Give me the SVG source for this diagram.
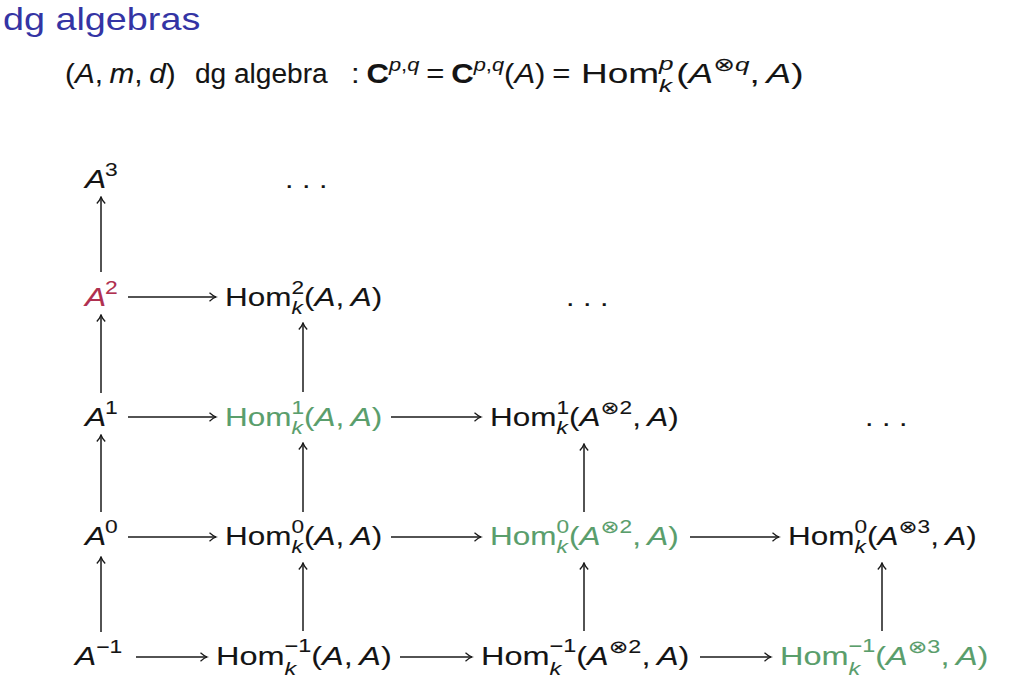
<svg xmlns="http://www.w3.org/2000/svg" width="1023" height="689" viewBox="0 0 1023 689">
<defs>
<style>
.t{font-family:"Liberation Sans","DejaVu Sans",sans-serif;font-size:25px;fill:#141414;stroke:#141414;stroke-width:0.08}
.h{font-size:27px}
.i{font-style:italic}
.s{font-size:18px}
.hs{font-size:19px}
.b{font-weight:bold}
.g{fill:#5a9e6c;stroke:#5a9e6c}
.r{fill:#b03050;stroke:#b03050}
.ttl{font-family:"Liberation Sans","DejaVu Sans",sans-serif;font-size:32px;fill:#3434a4}
.ar{stroke:#1a1a1a;stroke-width:1.5;fill:none}
</style>
<marker id="ah" viewBox="0 0 12 12" markerWidth="12" markerHeight="12" refX="10.5" refY="6" orient="auto" markerUnits="userSpaceOnUse">
<path d="M4,1.8 Q7.5,5 10.5,6 Q7.5,7 4,10.2" fill="none" stroke="#1a1a1a" stroke-width="1.3"/>
</marker>
</defs>
<rect width="1023" height="689" fill="#ffffff"/>

<g id="title"><text class="ttl" transform="translate(3,30) scale(1.18,1)">dg algebras</text></g>

<g id="header">
<text class="t h" transform="translate(65,83) scale(1.1,1)">(<tspan class="i">A</tspan>,<tspan class="i" dx="6">m</tspan>,<tspan class="i" dx="6">d</tspan>)</text>
<text class="t h" transform="translate(195,83) scale(1.04,1)">dg algebra</text>
<text class="t h" transform="translate(351,83) scale(1.15,1)">:<tspan class="b" dx="6">C</tspan><tspan class="hs i" dy="-12">p</tspan><tspan class="hs">,</tspan><tspan class="hs i">q</tspan><tspan dx="6" dy="12">=</tspan><tspan class="b" dx="6">C</tspan><tspan class="hs i" dy="-12">p</tspan><tspan class="hs">,</tspan><tspan class="hs i">q</tspan><tspan dy="12">(</tspan><tspan class="i">A</tspan>)<tspan dx="6">=</tspan></text>
<text class="t h" transform="translate(581,83) scale(1.37,1)">Hom<tspan class="hs i" dy="-13">p</tspan><tspan class="hs i" dx="-10.6" dy="22">k</tspan><tspan dx="3" dy="-9">(</tspan><tspan class="i">A</tspan><tspan class="hs" dy="-12">⊗</tspan><tspan class="hs i">q</tspan><tspan dy="12">,</tspan><tspan class="i" dx="5">A</tspan>)</text>
</g>

<g id="connectors">
<line class="ar" x1="128" y1="297" x2="216" y2="297" marker-end="url(#ah)"/>
<line class="ar" x1="128" y1="417" x2="216" y2="417" marker-end="url(#ah)"/>
<line class="ar" x1="391" y1="417" x2="481" y2="417" marker-end="url(#ah)"/>
<line class="ar" x1="128" y1="537" x2="216" y2="537" marker-end="url(#ah)"/>
<line class="ar" x1="391" y1="537" x2="481" y2="537" marker-end="url(#ah)"/>
<line class="ar" x1="690" y1="537" x2="779" y2="537" marker-end="url(#ah)"/>
<line class="ar" x1="136" y1="657" x2="207" y2="657" marker-end="url(#ah)"/>
<line class="ar" x1="400" y1="657" x2="472" y2="657" marker-end="url(#ah)"/>
<line class="ar" x1="700" y1="657" x2="771" y2="657" marker-end="url(#ah)"/>
<line class="ar" x1="101" y1="272" x2="101" y2="197" marker-end="url(#ah)"/>
<line class="ar" x1="101" y1="393" x2="101" y2="315" marker-end="url(#ah)"/>
<line class="ar" x1="101" y1="512" x2="101" y2="435" marker-end="url(#ah)"/>
<line class="ar" x1="101" y1="632" x2="101" y2="557" marker-end="url(#ah)"/>
<line class="ar" x1="303" y1="392" x2="303" y2="323" marker-end="url(#ah)"/>
<line class="ar" x1="303" y1="512" x2="303" y2="443" marker-end="url(#ah)"/>
<line class="ar" x1="303" y1="631" x2="303" y2="563" marker-end="url(#ah)"/>
<line class="ar" x1="584" y1="512" x2="584" y2="444" marker-end="url(#ah)"/>
<line class="ar" x1="584" y1="631" x2="584" y2="563" marker-end="url(#ah)"/>
<line class="ar" x1="882" y1="631" x2="882" y2="563" marker-end="url(#ah)"/>
</g>

<g id="n-A3"><text class="t" transform="translate(85,188) scale(1.27,1)"><tspan class="i">A</tspan><tspan class="s" dx="-1" dy="-12">3</tspan></text></g>
<g id="n-A2"><text class="t r" transform="translate(85,306) scale(1.27,1)"><tspan class="i">A</tspan><tspan class="s" dx="-1" dy="-12">2</tspan></text></g>
<g id="n-A1"><text class="t" transform="translate(85,426) scale(1.27,1)"><tspan class="i">A</tspan><tspan class="s" dx="-1" dy="-12">1</tspan></text></g>
<g id="n-A0"><text class="t" transform="translate(85,545) scale(1.27,1)"><tspan class="i">A</tspan><tspan class="s" dx="-1" dy="-12">0</tspan></text></g>
<g id="n-Am1"><text class="t" transform="translate(75,665) scale(1.27,1)"><tspan class="i">A</tspan><tspan class="s" dx="0" dy="-12">−1</tspan></text></g>

<g id="n-dots3"><text class="t" transform="translate(285,188) scale(1.22,1)">. . .</text></g>
<g id="n-dots2"><text class="t" transform="translate(566,306) scale(1.22,1)">. . .</text></g>
<g id="n-dots1"><text class="t" transform="translate(865,426) scale(1.22,1)">. . .</text></g>

<g id="n-H2-1"><text class="t" transform="translate(225,306) scale(1.26,1)">Hom<tspan class="s" dy="-12">2</tspan><tspan class="s i" dx="-10" dy="20">k</tspan><tspan dx="1" dy="-8">(</tspan><tspan class="i">A</tspan>,<tspan class="i" dx="5">A</tspan>)</text></g>

<g id="n-H1-1"><text class="t g" transform="translate(225,426) scale(1.26,1)">Hom<tspan class="s" dy="-12">1</tspan><tspan class="s i" dx="-10" dy="20">k</tspan><tspan dx="1" dy="-8">(</tspan><tspan class="i">A</tspan>,<tspan class="i" dx="5">A</tspan>)</text></g>
<g id="n-H1-2"><text class="t" transform="translate(490,426) scale(1.26,1)">Hom<tspan class="s" dy="-12">1</tspan><tspan class="s i" dx="-10" dy="20">k</tspan><tspan dx="1" dy="-8">(</tspan><tspan class="i">A</tspan><tspan class="s" dy="-12">⊗2</tspan><tspan dy="12">,</tspan><tspan class="i" dx="5">A</tspan>)</text></g>

<g id="n-H0-1"><text class="t" transform="translate(225,545) scale(1.26,1)">Hom<tspan class="s" dy="-12">0</tspan><tspan class="s i" dx="-10" dy="20">k</tspan><tspan dx="1" dy="-8">(</tspan><tspan class="i">A</tspan>,<tspan class="i" dx="5">A</tspan>)</text></g>
<g id="n-H0-2"><text class="t g" transform="translate(490,545) scale(1.26,1)">Hom<tspan class="s" dy="-12">0</tspan><tspan class="s i" dx="-10" dy="20">k</tspan><tspan dx="1" dy="-8">(</tspan><tspan class="i">A</tspan><tspan class="s" dy="-12">⊗2</tspan><tspan dy="12">,</tspan><tspan class="i" dx="5">A</tspan>)</text></g>
<g id="n-H0-3"><text class="t" transform="translate(788,545) scale(1.26,1)">Hom<tspan class="s" dy="-12">0</tspan><tspan class="s i" dx="-10" dy="20">k</tspan><tspan dx="1" dy="-8">(</tspan><tspan class="i">A</tspan><tspan class="s" dy="-12">⊗3</tspan><tspan dy="12">,</tspan><tspan class="i" dx="5">A</tspan>)</text></g>

<g id="n-Hm1-1"><text class="t" transform="translate(216,665) scale(1.3,1)">Hom<tspan class="s" dy="-13">−1</tspan><tspan class="s i" dx="-20.5" dy="23">k</tspan><tspan dx="11.5" dy="-10">(</tspan><tspan class="i">A</tspan>,<tspan class="i" dx="5">A</tspan>)</text></g>
<g id="n-Hm1-2"><text class="t" transform="translate(481,665) scale(1.3,1)">Hom<tspan class="s" dy="-13">−1</tspan><tspan class="s i" dx="-20.5" dy="23">k</tspan><tspan dx="11.5" dy="-10">(</tspan><tspan class="i">A</tspan><tspan class="s" dy="-12">⊗2</tspan><tspan dy="12">,</tspan><tspan class="i" dx="5">A</tspan>)</text></g>
<g id="n-Hm1-3"><text class="t g" transform="translate(780,665) scale(1.3,1)">Hom<tspan class="s" dy="-13">−1</tspan><tspan class="s i" dx="-20.5" dy="23">k</tspan><tspan dx="11.5" dy="-10">(</tspan><tspan class="i">A</tspan><tspan class="s" dy="-12">⊗3</tspan><tspan dy="12">,</tspan><tspan class="i" dx="5">A</tspan>)</text></g>
</svg>
